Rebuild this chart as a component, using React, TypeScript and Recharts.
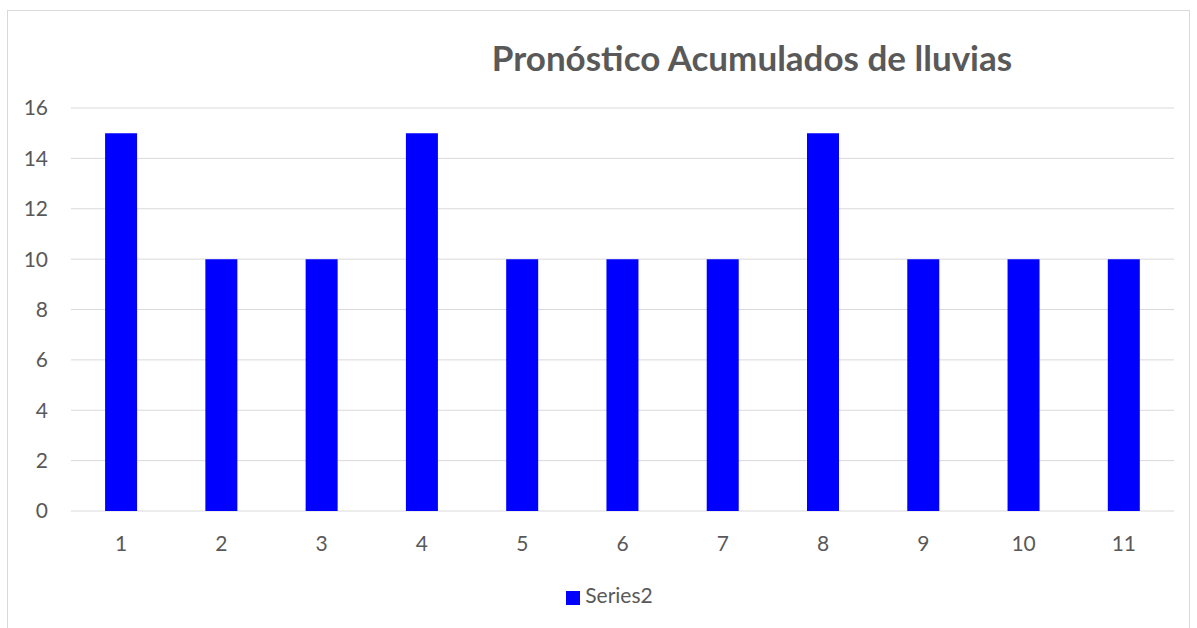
import { BarChart, Bar, XAxis, YAxis, CartesianGrid, Legend } from "recharts"

const days = ["1", "2", "3", "4", "5", "6", "7", "8", "9", "10", "11"]
const rain = [15, 10, 10, 15, 10, 10, 10, 15, 10, 10, 10]
const yTicks = [0, 2, 4, 6, 8, 10, 12, 14, 16]

const data = days.map((d, i) => ({ day: d, Series2: rain[i] }))

const font = "Lato, 'Open Sans', sans-serif"
const grey = "#595959"

export default function App() {
  return (
    <div
      style={{
        position: "absolute",
        left: 0,
        top: 0,
        width: 1197,
        height: 628,
        overflow: "hidden",
        background: "#fff",
        fontFamily: font
      }}
    >
      <div
        style={{
          position: "absolute",
          left: 7,
          top: 10,
          width: 1181,
          height: 660,
          border: "1px solid #d9d9d9"
        }}
      />

      <div
        style={{
          position: "absolute",
          left: 252,
          width: 1000,
          top: 37,
          lineHeight: "40px",
          textAlign: "center",
          fontSize: 35,
          fontWeight: 700,
          color: grey
        }}
      >
        Pronóstico Acumulados de lluvias
      </div>

      <div style={{ position: "absolute", left: 0, top: 0 }}>
        <BarChart
          width={1197}
          height={628}
          data={data}
          barCategoryGap="34%"
          margin={{ top: 108, right: 23, left: 11, bottom: 62 }}
        >
          <CartesianGrid vertical={false} stroke="#d9d9d9" />

          <XAxis
            dataKey="day"
            axisLine={false}
            tickLine={false}
            tickMargin={19}
            height={30}
            tick={{ fontSize: 21, fill: grey, fontFamily: font }}
          />

          <YAxis
            domain={[0, 16]}
            ticks={yTicks}
            axisLine={false}
            tickLine={false}
            tickMargin={17}
            width={60}
            tick={{ fontSize: 21, fill: grey, fontFamily: font }}
          />

          <Legend
            verticalAlign="bottom"
            iconType="square"
            iconSize={14}
            wrapperStyle={{ top: 582, left: 16, width: 1197, fontSize: 21, fontFamily: font }}
            formatter={(v) => <span style={{ color: grey, marginLeft: 1 }}>{v}</span>}
          />

          <Bar dataKey="Series2" fill="#0000ff" isAnimationActive={false} />
        </BarChart>
      </div>
    </div>
  )
}
